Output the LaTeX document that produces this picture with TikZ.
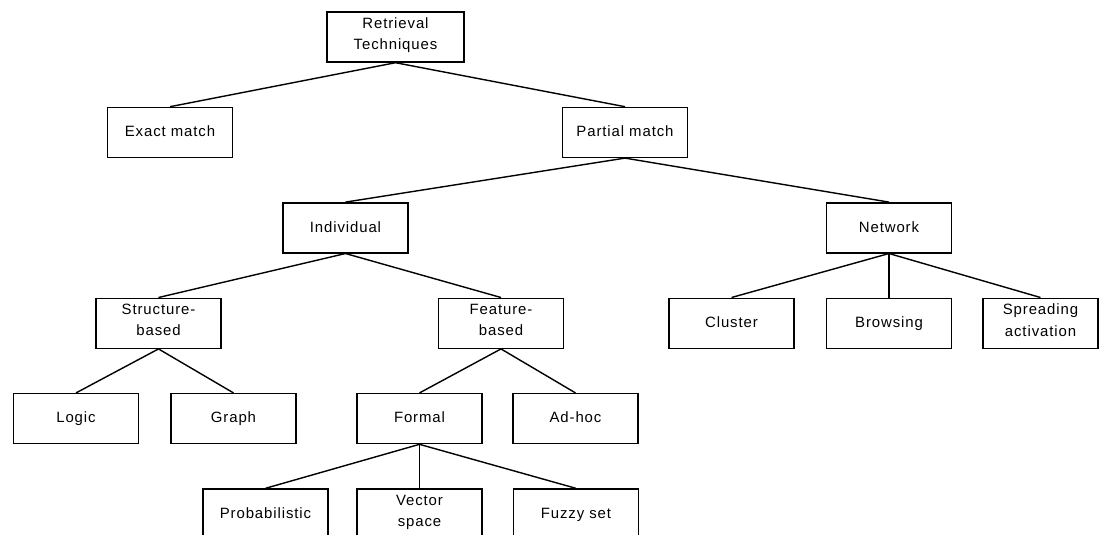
\documentclass[tikz,border=0pt]{standalone}
\usepackage{fontspec}
\setmainfont{Liberation Sans}[LetterSpace=6]
\usetikzlibrary{positioning}

\begin{document}
\begin{tikzpicture}[
    node distance=0.88cm,
    technique/.style={rectangle, minimum width=2.5cm, minimum height=1cm, text centered, align=center, draw=black, line width=0.8pt, font=\fontsize{8.5}{12}\selectfont, execute at begin node=\strut},
    link/.style={line width=0.8pt}
    ]
    \useasboundingbox (0,0) rectangle (22,-10.68);

    % Root
    \node (retrieval) [technique, minimum width=2.74cm] at (7.91,-0.74) {Retrieval\\Techniques};

    % Level 1
    \node (exact) [technique, below=of retrieval, xshift=-4.51cm] {Exact match};
    \node (partial) [technique, below=of retrieval, xshift=4.59cm] {Partial match};

    % Level 2
    \node (individual) [technique, below=of partial, xshift=-5.59cm] {Individual};
    \node (network) [technique, below=of partial, xshift=5.28cm] {Network};

    % Level 3
    \node (structure) [technique, below=of individual, xshift=-3.74cm] {Structure-\\based};
    \node (feature) [technique, below=of individual, xshift=3.11cm] {Feature-\\based};
    \node (cluster) [technique, below=of network, xshift=-3.15cm] {Cluster};
    \node (browsing) [technique, below=of network] {Browsing};
    \node (spreading) [technique, minimum width=2.3cm, below=of network, xshift=3.03cm] {Spreading\\activation};

    % Level 4
    \node (logic) [technique, below=of structure, xshift=-1.65cm] {Logic};
    \node (graph) [technique, below=of structure, xshift=1.5cm] {Graph};
    \node (formal) [technique, below=of feature, xshift=-1.63cm] {Formal};
    \node (adhoc) [technique, below=of feature, xshift=1.49cm] {Ad-hoc};

    % Level 5
    \node (probabilistic) [technique, below=of formal, xshift=-3.08cm] {Probabilistic};
    \node (vector) [technique, below=of formal] {Vector\\space};
    \node (fuzzy) [technique, below=of formal, xshift=3.13cm] {Fuzzy set};

    % Edges
    \draw [link] (retrieval.south) -- (exact.north);
    \draw [link] (retrieval.south) -- (partial.north);
    \draw [link] (partial.south) -- (individual.north);
    \draw [link] (partial.south) -- (network.north);
    \draw [link] (individual.south) -- (structure.north);
    \draw [link] (individual.south) -- (feature.north);
    \draw [link] (network.south) -- (cluster.north);
    \draw [link] (network.south) -- (browsing.north);
    \draw [link] (network.south) -- (spreading.north);
    \draw [link] (structure.south) -- (logic.north);
    \draw [link] (structure.south) -- (graph.north);
    \draw [link] (feature.south) -- (formal.north);
    \draw [link] (feature.south) -- (adhoc.north);
    \draw [link] (formal.south) -- (probabilistic.north);
    \draw [link] (formal.south) -- (vector.north);
    \draw [link] (formal.south) -- (fuzzy.north);

\end{tikzpicture}
\end{document}
